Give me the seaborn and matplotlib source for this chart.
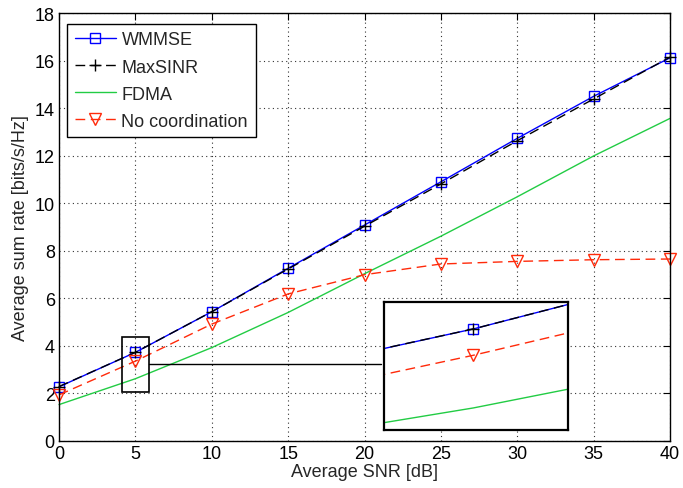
import matplotlib
matplotlib.use("Agg")
import matplotlib.pyplot as plt
import matplotlib.patches as mpatches
import seaborn as sns
import pandas as pd

snr = [0, 5, 10, 15, 20, 25, 30, 35, 40]
wmmse = [2.27, 3.72, 5.43, 7.26, 9.08, 10.90, 12.73, 14.50, 16.12]
maxsinr = [2.28, 3.72, 5.43, 7.23, 9.03, 10.81, 12.63, 14.39, 16.15]
fdma = [1.52, 2.61, 3.92, 5.40, 7.03, 8.61, 10.27, 11.99, 13.57]
nocoord = [1.93, 3.35, 4.91, 6.18, 6.99, 7.44, 7.55, 7.62, 7.65]

labels = ["WMMSE", "MaxSINR", "FDMA", "No coordination"]
xticks = [0, 5, 10, 15, 20, 25, 30, 35, 40]
yticks = [0, 2, 4, 6, 8, 10, 12, 14, 16, 18]

sns.set_theme(style="white")
plt.rcParams['font.family'] = ['Liberation Sans', 'DejaVu Sans']
plt.rcParams['font.size'] = 13

fig = plt.figure(figsize=(6.83, 4.89), dpi=100)
ax = fig.add_axes([0.0864, 0.0967, 0.8946, 0.8743])

BLUE = "#0000ff"
BLACK = "#000000"
GREEN = "#22cc44"
RED = "#ff2a0a"

styles = [
    dict(color=BLUE, marker="s", ms=6.5, mfc="none", mec=BLUE, mew=1.0, linestyle="-", lw=1.0),
    dict(color=BLACK, marker="+", ms=9, mec=BLACK, mew=1.0, linestyle=(0, (7, 4)), lw=1.0),
    dict(color=GREEN, marker=None, linestyle="-", lw=1.0),
    dict(color=RED, marker="v", ms=8, mfc="none", mec=RED, mew=1.0, linestyle=(0, (7, 4)), lw=1.0),
]
series = [wmmse, maxsinr, fdma, nocoord]
df = pd.DataFrame({"snr": snr, **{lab: s for lab, s in zip(labels, series)}})


def draw(a, legend, clip):
    for lab, st in zip(labels, styles):
        sns.lineplot(data=df, x="snr", y=lab, ax=a, label=lab if legend else None,
                     legend=False, clip_on=clip, **st)


draw(ax, True, False)

ax.set_xlim(0, 40)
ax.set_ylim(0, 18)
ax.set_xticks(xticks)
ax.set_yticks(yticks)
ax.set_xlabel("Average SNR [dB]", fontsize=13, labelpad=1)
ax.set_ylabel("Average sum rate [bits/s/Hz]", fontsize=13, labelpad=4)
ax.grid(True, linestyle=(0, (1, 3)), color="#333333", lw=0.8)
ax.tick_params(direction="in", length=5, width=0.8, top=True, right=True,
               labelsize=13, pad=3, colors="black")
for sp in ax.spines.values():
    sp.set_color("black")
    sp.set_linewidth(1.0)

leg = ax.legend(loc="upper left", bbox_to_anchor=(0.013, 0.975), fontsize=13,
                frameon=True, fancybox=False, edgecolor="black", framealpha=1,
                handlelength=2.3, labelspacing=0.56, borderpad=0.42, handletextpad=0.3,
                borderaxespad=0)
leg.get_frame().set_linewidth(1.0)
leg.set_zorder(10)

# zoom rectangle and connector
rect = mpatches.Rectangle((4.1, 2.05), 1.77, 2.3, fill=False, ec="black", lw=1.2, zorder=5)
ax.add_patch(rect)
ax.plot([5.87, 21.05], [3.23, 3.23], color="black", lw=1.0, zorder=5)

# inset
axin = fig.add_axes([0.562, 0.1186, 0.269, 0.262])
axin.set_facecolor("white")
draw(axin, False, True)
axin.set_xlim(4.05, 6.0)
axin.set_ylim(2.3, 4.1)
axin.set_xticks([])
axin.set_yticks([])
axin.set_xlabel("")
axin.set_ylabel("")
for sp in axin.spines.values():
    sp.set_color("black")
    sp.set_linewidth(1.6)

fig.savefig("out.png", dpi=100)
